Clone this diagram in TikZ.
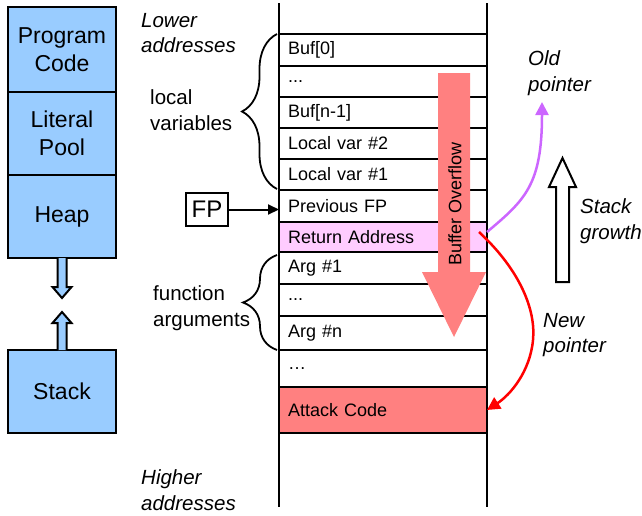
\documentclass[tikz,border=0pt]{standalone}
\usepackage{fontspec}
\setmainfont{Liberation Sans}
\usetikzlibrary{arrows.meta,decorations.pathreplacing}
\definecolor{memblue}{HTML}{99CCFF}
\definecolor{retpink}{HTML}{FFCCFF}
\definecolor{attackred}{HTML}{FF8080}
\definecolor{oldptr}{HTML}{CC66FF}
\tikzset{
  membox/.style={draw, fill=memblue, line width=2.5pt, minimum width=108pt,
    inner sep=0pt, outer sep=0pt, align=center, font=\fontsize{23}{28}\selectfont},
  stackcell/.style={draw, line width=2.5pt, minimum height=#1, text width=190pt,
    inner xsep=9pt, inner ysep=0pt, outer sep=0pt, align=left, anchor=north west,
    font=\fontsize{18}{21}\selectfont},
  sidelabel/.style={anchor=west, align=left, inner sep=0pt,
    font=\fontsize{20.5}{25.5}\selectfont},
  notelabel/.style={sidelabel, font=\fontsize{20.5}{25.5}\selectfont\itshape},
  bracestyle/.style={line width=1.8pt, decorate, decoration={brace, amplitude=#1}},
}
\begin{document}
\begin{tikzpicture}[x=1pt, y=-1pt]
\useasboundingbox (0,0) rectangle (642,515);

% memory layout blocks
\node[membox, minimum height=85pt] (code) at (62,49.5) {Program\\Code};
\node[membox, minimum height=83pt] (pool) at (62,133.5) {Literal\\Pool};
\node[membox, minimum height=83pt] (heap) at (62,216.5) {Heap};
\node[membox, minimum height=83pt] (stk)  at (62,391.5) {Stack};

% heap grows down, stack grows up
\draw[fill=memblue, line width=2pt, line join=miter]
  (heap.south) ++(-4.5,0) -- ++(0,29) -- ++(-5,0) -- ++(9.5,11) -- ++(9.5,-11)
  -- ++(-5,0) -- ++(0,-29);
\draw[fill=memblue, line width=2pt, line join=miter]
  (stk.north) ++(-4.5,0) -- ++(0,-27) -- ++(-5,0) -- ++(9.5,-11) -- ++(9.5,11)
  -- ++(-5,0) -- ++(0,27);

% stack frame
\draw[line width=2.5pt] (279,3) -- (279,507) (487,3) -- (487,507);
\node[stackcell=32pt] (b0)  at (279,34) {Buf[0]};
\node[stackcell=31pt] (bd)  at (b0.south west) {...};
\node[stackcell=31pt] (bn)  at (bd.south west) {Buf[n-1]};
\node[stackcell=31pt] (lv2) at (bn.south west) {Local var \#2};
\node[stackcell=31pt] (lv1) at (lv2.south west) {Local var \#1};
\node[stackcell=32pt] (pfp) at (lv1.south west) {Previous FP};
\node[stackcell=30pt, fill=retpink] (ret) at (pfp.south west) {Return Address};
\node[stackcell=32pt] (a1)  at (ret.south west) {Arg \#1};
\node[stackcell=32pt] (ad)  at (a1.south west) {...};
\node[stackcell=34pt] (an)  at (ad.south west) {Arg \#n};
\node[stackcell=37pt] (gap) at (an.south west) {\textellipsis};
\node[stackcell=46pt, fill=attackred] (attack) at (gap.south west) {Attack Code};

% address direction labels
\node[notelabel] (lower)  at (141,33)  {Lower\\addresses};
\node[notelabel] (higher) at (141,490) {Higher\\addresses};

% braces for frame regions
\draw[bracestyle=35pt] ([xshift=-2pt,yshift=1pt]lv1.south west) -- ([xshift=-2pt]b0.north west);
\node[sidelabel] (lvlab) at (150,110) {local\\variables};
\draw[bracestyle=34pt] ([xshift=-2pt]an.south west) -- ([xshift=-2pt,yshift=-3pt]a1.north west);
\node[sidelabel] (falab) at (153,308) {function\\arguments};

% frame pointer
\node[draw, line width=2.5pt, minimum width=42pt, minimum height=33pt, inner sep=0pt,
  outer sep=0pt, font=\fontsize{24}{24}\selectfont] (fp) at (207,209.5) {FP};
\draw[line width=2pt, -{Triangle[length=11pt,width=10pt]}] (fp.east) -- (fp.east -| pfp.west);

% buffer overflow arrow
\fill[attackred] (438,73) -- (470,73) -- (470,272) -- (486,272) -- (454,337)
  -- (422,272) -- (438,272) -- cycle;
\node[rotate=90, inner sep=0pt, font=\fontsize{18}{18}\selectfont] (bo) at (455,204) {Buffer Overflow};

% old and new return pointers
\coordinate (oldtip) at (542,102);
\draw[oldptr, line width=2.5pt, -{Triangle[length=13pt,width=13pt]}]
  ([yshift=5pt]ret.east) .. controls (525,200) and (542,185) .. (oldtip);
\node[notelabel] (oldlab) at (528,73) {Old\\pointer};
\draw[red, line width=2.5pt, -{Triangle[length=13pt,width=13pt]}]
  ([xshift=-8pt,yshift=5pt]ret.east) .. controls (520,270) and (536,310) .. (533,340)
  .. controls (530,372) and (510,395) .. (attack.east);
\node[notelabel] (newlab) at (543,335) {New\\pointer};

% stack growth direction
\draw[fill=white, line width=2pt, line join=miter]
  (556,282) -- (556,187) -- (549,187) -- (562.5,158) -- (576,187) -- (569,187)
  -- (569,282) -- cycle;
\node[notelabel] (growlab) at (580,221) {Stack\\growth};
\end{tikzpicture}
\end{document}
